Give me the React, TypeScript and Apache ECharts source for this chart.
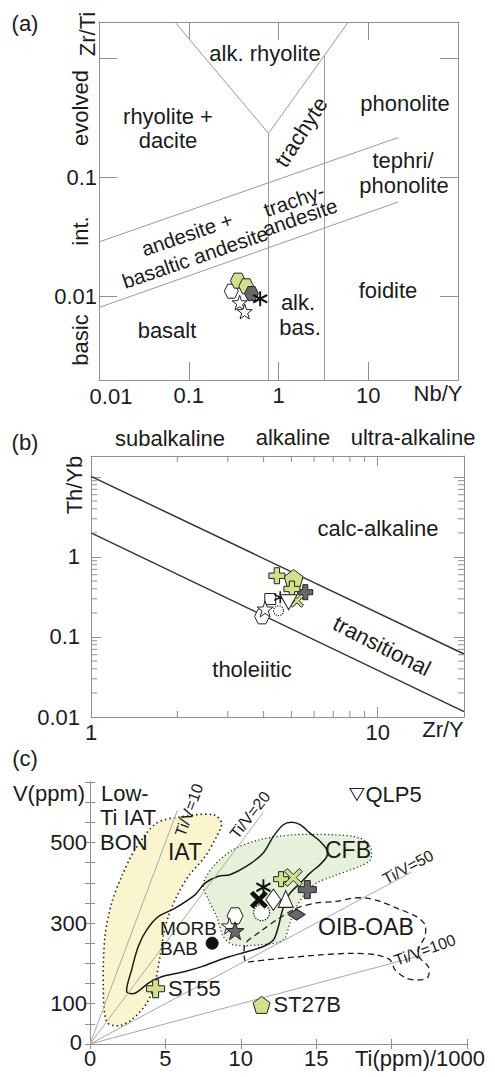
import React, { useEffect, useRef } from 'react';
import * as echarts from 'echarts';

// ---------- (a) Zr/Ti vs Nb/Y (log–log) ----------
const A_X_RANGE = [0.01, 100];
const A_Y_RANGE = [0.002, 2];
const aXTickLabels = ['0.01', '0.1', '1', '10'];
const aYTickLabels = ['0.01', '0.1'];
const aAlkRhyoliteV = [[0.07, 2], [0.774, 0.233], [6.0, 2]];
const aTrachyteDivide = [[0.774, 0.002], [0.774, 0.233]];
const aPhonoliteDivide = [[3.25, 0.002], [3.25, 1.05]];
const aEvolvedDivide = [[0.01, 0.0287], [21.5, 0.215]];
const aBasicDivide = [[0.01, 0.0081], [21.5, 0.062]];

const aWhiteHex = [[0.298, 0.0111]];
const aGreenHex = [[0.353, 0.0136], [0.437, 0.0122]];
const aDarkHex = [[0.5, 0.0106]];
const aWhiteStar = [[0.369, 0.0089], [0.42, 0.0075]];
const aAsterisk = [[0.625, 0.0096]];

// ---------- (b) Th/Yb vs Zr/Y (log–log) ----------
const B_X_RANGE = [1, 20];
const B_Y_RANGE = [0.01, 18.3];
const bXTickLabels = ['1', '10'];
const bYTickLabels = ['0.01', '0.1', '1'];
const bMinorMantissas = [2, 3, 4, 5, 6, 7, 8, 9];
const bYDecades = [0.01, 0.1, 1, 10];
const bCalcAlkalineDivide = [[1, 10.2], [20, 0.0613]];
const bTholeiiticDivide = [[1, 2.0], [20, 0.01165]];

const bDarkPlus = [[5.59, 0.363]];
const bGreenPent = [[5.09, 0.531]];
const bGreenPlus = [[4.45, 0.583], [5.02, 0.398]];
const bGreenCross = [[5.23, 0.284]];
const bWhiteSquare = [[4.22, 0.298]];
const bAsterisk = [[4.57, 0.313]];
const bWhiteTriDown = [[4.89, 0.272]];
const bWhiteHex = [[3.95, 0.181]];
const bWhiteStar = [[4.05, 0.224]];
const bDottedCircle = [[4.51, 0.213]];

// ---------- (c) V vs Ti/1000 ----------
const C_X_RANGE = [0, 25];
const C_Y_RANGE = [0, 650];
const cXTickLabels = ['0', '5', '10', '15'];
const cYTickLabels = ['0', '100', '300', '500'];
const cTiVRatios = [10, 20, 50, 100];
const cTiVEndTi = [5.8, 11.5, 21.3, 22.0];

const cIATField = [
  [4.42, 548], [6.3, 565], [8.18, 569], [8.73, 548], [8.4, 515], [7.63, 465], [6.52, 416],
  [5.75, 366], [5.19, 316], [4.86, 267], [4.64, 217], [4.31, 151], [3.76, 101], [2.76, 60],
  [1.88, 45], [1.1, 55], [0.88, 142], [0.99, 267], [1.44, 350], [2.1, 416], [2.98, 482],
];
const cCFBField = [
  [7.51, 395], [8.18, 441], [9.5, 482], [11.27, 507], [13.48, 519], [16.13, 519], [17.9, 511],
  [18.6, 488], [18.6, 457], [17.9, 441], [16.1, 416], [15.0, 399], [14.4, 380], [13.7, 341],
  [13.26, 300], [12.82, 258], [11.27, 246], [9.5, 246], [8.84, 267], [8.4, 316], [7.85, 358],
];
const cMORBField = [
  [2.43, 130], [2.76, 184], [3.2, 242], [3.76, 283], [4.53, 316], [5.64, 337], [6.96, 370],
  [7.63, 399], [8.51, 416], [9.28, 420], [10.39, 441], [11.49, 474], [12.16, 515], [12.82, 544],
  [13.37, 550], [13.93, 544], [14.59, 523], [15.25, 503], [15.7, 482], [15.7, 465], [15.25, 445],
  [14.59, 424], [13.93, 399], [13.26, 374], [12.93, 350], [12.71, 325], [12.49, 291], [12.16, 258],
  [11.49, 242], [10.39, 229], [9.28, 217], [8.62, 209], [7.41, 192], [6.3, 180], [4.75, 167],
  [3.87, 151], [2.98, 126],
];
const cOIBField = [
  [10.3, 205], [10.3, 248], [11.27, 278], [12.38, 308], [13.7, 337], [15.03, 350], [16.36, 354],
  [17.46, 362], [18.35, 362], [19.23, 354], [20.34, 337], [21.66, 316], [22.21, 296], [22.21, 267],
  [21.77, 234], [21.88, 213], [22.43, 192], [22.43, 167], [21.88, 159], [21.0, 163], [20.23, 184],
  [19.89, 209], [19.01, 221], [17.46, 225], [15.25, 221], [11.71, 209], [10.83, 205],
];

const cST55 = [4.35, 137];
const cST27B = [11.38, 97];
const cQLP5 = [17.7, 619];
const cGreenPlus = [[12.67, 409]];
const cGreenCross = [[13.48, 413]];
const cDarkPlus = [[14.41, 383]];
const cDarkDiamond = [[13.7, 321]];
const cWhiteHex = [[9.62, 318]];
const cWhiteStar = [[9.25, 293]];
const cDarkStar = [[9.62, 281]];
const cBlackDot = [[8.1, 250]];
const cBlackCross = [[11.2, 358]];
const cAsterisk = [[11.5, 389]];
const cDottedCircle = [[11.38, 326]];
const cWhiteDiamond = [[12.16, 358]];
const cWhiteTriangle = [[12.98, 360]];

// ---------- styling ----------
const FONT = '"Liberation Sans", Arial, Helvetica, sans-serif';
const INK = '#1b1b1b';
const FRAME = '#8f8f8f';
const GREEN = '#d3e08b';
const DARK = '#686868';
const EDGE = '#222';
const FS = 22;

const SYM = {
  plus: 'path://M-1,-3L1,-3L1,-1L3,-1L3,1L1,1L1,3L-1,3L-1,1L-3,1L-3,-1L-1,-1Z',
  cross: 'path://M-3,-2L-2,-3L0,-1L2,-3L3,-2L1,0L3,2L2,3L0,1L-2,3L-3,2L-1,0Z',
  star: 'path://M0,-10L2.35,-3.24L9.51,-3.09L3.8,1.24L5.88,8.09L0,4L-5.88,8.09L-3.8,1.24L-9.51,-3.09L-2.35,-3.24Z',
  hexagon: 'path://M-5,-8.66L5,-8.66L10,0L5,8.66L-5,8.66L-10,0Z',
  pentagon: 'path://M0,-10L9.51,-3.09L5.88,8.09L-5.88,8.09L-9.51,-3.09Z',
  asterisk: 'path://M0,-10L0,10M-8.66,-5L8.66,5M-8.66,5L8.66,-5',
  triDown: 'path://M-10,-8L10,-8L0,9Z',
  triUp: 'path://M0,-9L10,8L-10,8Z',
  diamond: 'path://M0,-10L7,0L0,10L-7,0Z',
  square: 'path://M-5,-5L5,-5L5,5L-5,5Z',
};

const fmtNum = (v: number) => String(parseFloat(Number(v).toPrecision(4)));

function txt(text: string, x: number, y: number, o: any = {}) {
  return {
    type: 'text', x, y, z: 100, silent: true,
    rotation: ((o.rot || 0) * Math.PI) / 180,
    style: {
      text, fontSize: o.size || FS, fontFamily: FONT, fill: INK,
      align: o.align || 'center', verticalAlign: 'middle',
    },
  };
}

function marks(ai: number, data: any[], symbol: string, size: any, fill: string, o: any = {}) {
  return {
    type: 'scatter', xAxisIndex: ai, yAxisIndex: ai, data, symbol, symbolSize: size,
    symbolRotate: o.rotate || 0,
    silent: true, z: o.z || 5,
    itemStyle: {
      color: fill, borderColor: o.stroke || EDGE, borderWidth: o.bw ?? 1,
      borderType: o.dash || 'solid', opacity: 1,
    },
    label: o.label,
  };
}

function seg(ai: number, data: any[], color: string, width: number) {
  return {
    type: 'line', xAxisIndex: ai, yAxisIndex: ai, data, symbol: 'none', silent: true, z: 3,
    lineStyle: { color, width, type: 'solid' },
  };
}

function field(ai: number, pts: number[][], style: any, z = 1) {
  return {
    type: 'custom', xAxisIndex: ai, yAxisIndex: ai, data: [pts[0]], silent: true, z,
    renderItem: (_p: any, api: any) => ({
      type: 'polygon',
      shape: { points: pts.map((p) => api.coord(p)), smooth: 0.3 },
      style,
    }),
  };
}

// tick labels shown by the axis itself; corner labels listed in `own` are set beside the frame
const tickFormatter = (labels: string[], own: string[] = []) => (v: number) => {
  const s = fmtNum(v);
  return labels.includes(s) && !own.includes(s) ? s : '';
};

function axisPair(kind: 'x' | 'y', grid: number, type: string, range: number[], tickLen: number,
  labels: string[], margin: number, extra: any = {}) {
  const line = { show: true, lineStyle: { color: FRAME, width: 1 } };
  const tick = { show: true, inside: true, length: tickLen, lineStyle: { color: FRAME, width: 1 } };
  const base: any = {
    type, gridIndex: grid, min: range[0], max: range[1],
    axisLine: line, axisTick: tick, splitLine: { show: false },
    ...(extra.interval ? { interval: extra.interval } : {}),
  };
  const main = {
    ...base,
    position: kind === 'x' ? 'bottom' : 'left',
    axisLabel: {
      fontSize: FS, color: INK, fontFamily: FONT, margin,
      formatter: tickFormatter(labels, extra.own),
    },
  };
  const mirror = { ...base, position: kind === 'x' ? 'top' : 'right', axisLabel: { show: false } };
  return [main, mirror];
}

function buildOption() {
  const aX = axisPair('x', 0, 'log', A_X_RANGE, 18, aXTickLabels, 4, { own: ['0.01'] });
  const aY = axisPair('y', 0, 'log', A_Y_RANGE, 18, aYTickLabels, 2);
  const bX = axisPair('x', 1, 'log', B_X_RANGE, 10, bXTickLabels, 4);
  const bY = axisPair('y', 1, 'log', B_Y_RANGE, 10, bYTickLabels, 11);
  const cX = axisPair('x', 2, 'value', C_X_RANGE, 5, cXTickLabels, 3, { interval: 5 });
  const cY = axisPair('y', 2, 'value', C_Y_RANGE, 5, cYTickLabels, 3, { interval: 50, own: ['0'] });

  // minor log ticks for panel (b), drawn through the panel's own axes
  const bMinorTicks = {
    type: 'custom', xAxisIndex: 2, yAxisIndex: 2, data: [[1, 1]], silent: true, z: 4,
    renderItem: (_p: any, api: any) => {
      const [left, bottom] = api.coord([B_X_RANGE[0], B_Y_RANGE[0]]);
      const [right, top] = api.coord([B_X_RANGE[1], B_Y_RANGE[1]]);
      const L = 6;
      const st = { stroke: FRAME, lineWidth: 1 };
      const children: any[] = [];
      for (const m of bMinorMantissas) {
        const px = api.coord([m, 1])[0];
        children.push({ type: 'line', shape: { x1: px, y1: bottom, x2: px, y2: bottom - L }, style: st });
        children.push({ type: 'line', shape: { x1: px, y1: top, x2: px, y2: top + L }, style: st });
      }
      for (const d of bYDecades) {
        for (const m of bMinorMantissas) {
          const v = d * m;
          if (v > B_Y_RANGE[1]) continue;
          const py = api.coord([1, v])[1];
          children.push({ type: 'line', shape: { x1: left, y1: py, x2: left + L, y2: py }, style: st });
          children.push({ type: 'line', shape: { x1: right, y1: py, x2: right - L, y2: py }, style: st });
        }
      }
      return { type: 'group', children };
    },
  };

  const tiVLines = cTiVRatios.map((r, i) =>
    seg(4, [[0, 0], [cTiVEndTi[i], (cTiVEndTi[i] * 1000) / r]], '#a8a8a8', 1));

  const ptLabel = {
    show: true, position: 'right', distance: 3, formatter: '{b}',
    fontSize: FS, color: INK, fontFamily: FONT,
  };

  const series: any[] = [
    // (a)
    seg(0, aAlkRhyoliteV, '#9a9a9a', 1),
    seg(0, aTrachyteDivide, '#9a9a9a', 1),
    seg(0, aPhonoliteDivide, '#9a9a9a', 1),
    seg(0, aEvolvedDivide, '#9a9a9a', 1),
    seg(0, aBasicDivide, '#9a9a9a', 1),
    marks(0, aWhiteHex, SYM.hexagon, 14, '#fff'),
    marks(0, aGreenHex, SYM.hexagon, 15, GREEN),
    marks(0, aWhiteStar, SYM.star, 15, '#fff'),
    marks(0, aDarkHex, SYM.hexagon, 14, DARK),
    marks(0, aAsterisk, SYM.asterisk, [14, 15], 'transparent', { stroke: '#111', bw: 2 }),

    // (b)
    seg(2, bCalcAlkalineDivide, '#333', 1.5),
    seg(2, bTholeiiticDivide, '#333', 1.5),
    bMinorTicks,
    marks(2, bDarkPlus, SYM.plus, 15, DARK),
    marks(2, bGreenPent, SYM.pentagon, 19, GREEN),
    marks(2, bGreenPlus, SYM.plus, 16, GREEN),
    marks(2, bGreenCross, SYM.cross, 13, GREEN),
    marks(2, bWhiteSquare, SYM.square, 11, '#fff'),
    marks(2, bAsterisk, SYM.asterisk, 12, 'transparent', { stroke: '#111', bw: 1.5 }),
    marks(2, bWhiteTriDown, SYM.triDown, [17, 15], '#fff'),
    marks(2, bWhiteHex, SYM.hexagon, 15, '#fff'),
    marks(2, bWhiteStar, SYM.star, 16, '#fff'),
    marks(2, bDottedCircle, 'circle', 10, '#fff', { dash: 'dotted', bw: 1.2 }),

    // (c)
    field(4, cIATField, { fill: '#fbf5cf', stroke: '#222', lineWidth: 1.6, lineDash: [1.5, 3] }, 1),
    field(4, cCFBField, { fill: '#e6f0da', stroke: '#333', lineWidth: 1.3, lineDash: [1.2, 2.5] }, 1),
    field(4, cMORBField, { fill: 'none', stroke: '#1a1a1a', lineWidth: 1.5 }, 2),
    field(4, cOIBField, { fill: 'none', stroke: '#1a1a1a', lineWidth: 1.3, lineDash: [6, 4] }, 2),
    ...tiVLines,
    marks(4, [{ value: cST55, name: 'ST55' }], SYM.plus, 18, GREEN, { label: ptLabel }),
    marks(4, [{ value: cST27B, name: 'ST27B' }], SYM.pentagon, 17, GREEN, { label: ptLabel }),
    marks(4, [{ value: cQLP5, name: 'QLP5' }], SYM.triDown, [14, 12], '#fff', { label: { ...ptLabel, distance: 1 } }),
    marks(4, cBlackDot, 'circle', 12, '#111', { stroke: '#111' }),
    marks(4, cWhiteHex, SYM.hexagon, 16, '#fff'),
    marks(4, cWhiteStar, SYM.star, 16, '#fff'),
    marks(4, cDarkStar, SYM.star, 18, DARK),
    marks(4, cDottedCircle, 'circle', 16, '#fff', { dash: 'dotted', bw: 1.3 }),
    marks(4, cBlackCross, SYM.cross, 17, '#111', { stroke: '#111' }),
    marks(4, cAsterisk, SYM.asterisk, [14, 16], 'transparent', { stroke: '#111', bw: 2 }),
    marks(4, cWhiteDiamond, SYM.diamond, [15, 21], '#fff'),
    marks(4, cWhiteTriangle, SYM.triUp, [15, 17], '#fff'),
    marks(4, cDarkDiamond, SYM.diamond, [11, 17], DARK, { rotate: 90 }),
    marks(4, cGreenPlus, SYM.plus, 15, GREEN),
    marks(4, cGreenCross, SYM.cross, 18, GREEN),
    marks(4, cDarkPlus, SYM.plus, 18, DARK),
  ];

  const graphics = [
    // (a)
    txt('(a)', 25, 23),
    txt('Zr/Ti', 87, 34, { rot: 90 }),
    txt('evolved', 80, 108, { rot: 90 }),
    txt('int.', 80, 231, { rot: 90 }),
    txt('basic', 80, 340, { rot: 90 }),
    txt('alk. rhyolite', 265, 53),
    txt('rhyolite +', 168, 116),
    txt('dacite', 168, 140),
    txt('trachyte', 301, 132, { rot: 57 }),
    txt('phonolite', 405, 103),
    txt('tephri/', 403, 160),
    txt('phonolite', 404, 185),
    txt('trachy-', 294, 200, { rot: 19, size: 20.5 }),
    txt('andesite', 300, 217, { rot: 19, size: 20.5 }),
    txt('andesite +', 187, 234, { rot: 19, size: 20.5 }),
    txt('basaltic andesite', 195, 257, { rot: 19, size: 20.5 }),
    txt('alk.', 298, 302),
    txt('bas.', 300, 327),
    txt('foidite', 388, 290),
    txt('basalt', 167, 330),
    txt(aXTickLabels[0], 111, 396),
    txt('Nb/Y', 438, 393),
    // (b)
    txt('(b)', 25, 442),
    txt('subalkaline', 170, 438),
    txt('alkaline', 293, 437),
    txt('ultra-alkaline', 413, 437),
    txt('Th/Yb', 74, 485, { rot: 90 }),
    txt('calc-alkaline', 378, 528),
    txt('transitional', 382, 646, { rot: -27 }),
    txt('tholeiitic', 252, 669),
    txt('Zr/Y', 443, 729),
    // (c)
    txt('(c)', 25, 758),
    txt('V(ppm)', 49, 793),
    txt('Low-', 101, 793, { align: 'left' }),
    txt('Ti IAT', 100, 817, { align: 'left' }),
    txt('BON', 100, 842, { align: 'left' }),
    txt('IAT', 185, 852, { size: 23 }),
    txt('CFB', 348, 850, { size: 23 }),
    txt('OIB-OAB', 366, 927, { size: 23 }),
    txt('MORB', 160, 928, { align: 'left', size: 19 }),
    txt('BAB', 160, 948, { align: 'left', size: 19 }),
    txt('Ti/V=10', 189, 810, { rot: 70, size: 16 }),
    txt('Ti/V=20', 250, 815, { rot: 52, size: 16 }),
    txt('Ti/V=50', 408, 867, { rot: 28, size: 16 }),
    txt('Ti/V=100', 425, 950, { rot: 20, size: 16 }),
    txt(cYTickLabels[0], 82, 1042, { align: 'right' }),
    txt('Ti(ppm)/1000', 420, 1058),
  ];

  return {
    animation: false,
    backgroundColor: '#fff',
    textStyle: { fontFamily: FONT },
    grid: [
      { left: 99, top: 22, width: 359, height: 358 },
      { left: 91, top: 456, width: 373, height: 261 },
      { left: 90, top: 782, width: 377, height: 262 },
    ],
    xAxis: [...aX, ...bX, ...cX],
    yAxis: [...aY, ...bY, ...cY],
    series,
    graphic: { elements: graphics },
  };
}

export default function App() {
  const ref = useRef<HTMLDivElement>(null);
  useEffect(() => {
    const el = ref.current;
    if (!el) return;
    const chart = echarts.init(el, null, { renderer: 'svg' });
    chart.setOption(buildOption() as any);
    return () => chart.dispose();
  }, []);
  return (
    <div
      ref={ref}
      style={{ position: 'absolute', left: 0, top: 0, width: 495, height: 1077, background: '#fff' }}
    />
  );
}
